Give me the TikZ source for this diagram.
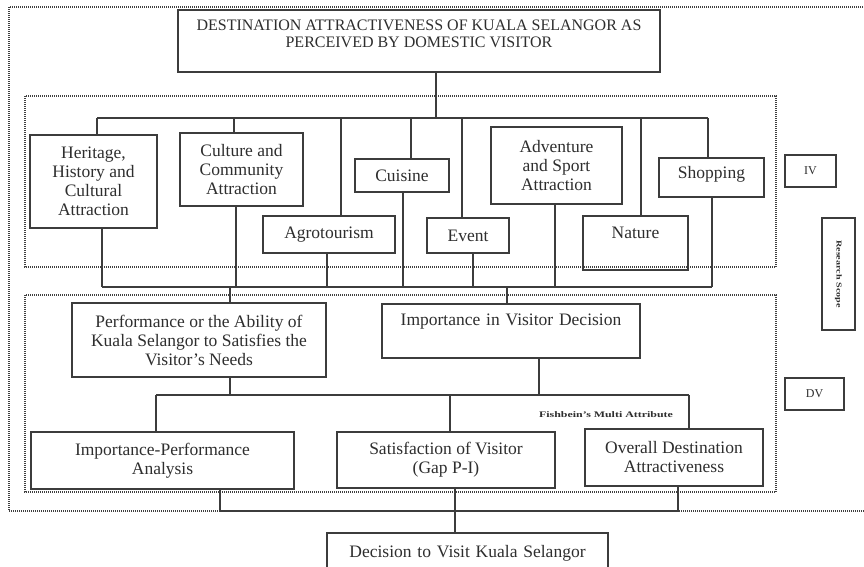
\documentclass[tikz,border=0pt]{standalone}
\usepackage{fontspec}
\setmainfont{Liberation Serif}
\usepackage{graphicx}
\definecolor{linec}{HTML}{3C3C3C}
\definecolor{textc}{HTML}{2E2E2E}
\definecolor{dotc}{HTML}{404040}
\tikzset{
  box/.style={draw=linec, line width=1.1pt, inner sep=0pt, align=center, text=textc,
              font=\fontsize{17.5}{19}\selectfont},
  conn/.style={draw=linec, line width=1.1pt},
  dotbox/.style={draw=dotc, line width=1.6pt, dash pattern=on 1pt off 1pt},
}
\begin{document}
\begin{tikzpicture}[x=1pt, y=-1pt]
\useasboundingbox (0,0) rectangle (864,566);
\clip (0,0) rectangle (864,566);
\fill[white] (0,0) rectangle (864,566);

% dotted frames
\draw[dotbox] (9,7) rectangle (880,511);
\draw[dotbox] (25,96) rectangle (776,267);
\draw[dotbox] (25,295) rectangle (776,492);

% title
\node[box, minimum width=482pt, minimum height=62pt, font=\fontsize{16}{17}\selectfont] (title) at (419,41)
  {DESTINATION ATTRACTIVENESS OF KUALA SELANGOR AS\\PERCEIVED BY DOMESTIC VISITOR\\[-3pt]};

% IV level boxes
\node[box, minimum width=127pt, minimum height=93pt] (heritage) at (93.5,181.5) {Heritage,\\History and\\Cultural\\Attraction};
\node[box, minimum width=123pt, minimum height=73pt] (culture) at (241.5,169.5) {Culture and\\Community\\Attraction};
\node[box, minimum width=132pt, minimum height=37pt] (agro) at (329,234.5) {Agrotourism};
\node[box, minimum width=94pt, minimum height=33pt] (cuisine) at (402,175.5) {Cuisine};
\node[box, minimum width=82pt, minimum height=35pt] (event) at (468,235.5) {Event};
\node[box, minimum width=131pt, minimum height=77pt] (adventure) at (556.5,165.5) {Adventure\\and Sport\\Attraction};
\node[box, text width=105pt, text height=22pt, text depth=32pt] (nature) at (635.5,243) {Nature};
\node[box, text width=105pt, text height=20pt, text depth=19pt] (shopping) at (711.5,177.5) {Shopping};

% side labels
\node[box, minimum width=51pt, minimum height=32pt, font=\fontsize{12}{14}\selectfont] (iv) at (810.5,171) {IV};
\node[box, minimum width=33pt, minimum height=112pt] (scope) at (838.5,274)
  {\rotatebox{-90}{\scalebox{1.35}[1]{\fontsize{7.5}{9}\selectfont\bfseries Research Scope}}};
\node[box, minimum width=59pt, minimum height=32pt, font=\fontsize{12}{14}\selectfont] (dv) at (814.5,394) {DV};

% DV level boxes
\node[box, minimum width=254pt, minimum height=74pt] (perf) at (199,340)
  {Performance or the Ability of\\Kuala Selangor to Satisfies the\\Visitor's Needs};
\node[box, text width=258pt, text height=21pt, text depth=33pt] (importance) at (511,331)
  {Importance in Visitor Decision};
\node[box, minimum width=263pt, minimum height=57pt] (ipa) at (162.5,460.5)
  {Importance-Performance\\Analysis};
\node[box, minimum width=218pt, minimum height=56pt] (satisfaction) at (446,460)
  {Satisfaction of Visitor\\(Gap P-I)};
\node[box, minimum width=178pt, minimum height=57pt] (overall) at (674,457.5)
  {Overall Destination\\Attractiveness};
\node[text=textc, inner sep=0pt] (fish) at (606,415)
  {\scalebox{1.4}[1]{\fontsize{8.5}{10}\selectfont\bfseries Fishbein's Multi Attribute}};

% decision
\node[box, text width=281pt, text height=24pt, text depth=18pt] (decision) at (467.5,554)
  {Decision to Visit Kuala Selangor};

% top bus
\coordinate (tb) at (436,118);
\coordinate (t1) at (97,118);
\coordinate (t2) at (234,118);
\coordinate (t3) at (341,118);
\coordinate (t4) at (411,118);
\coordinate (t5) at (462,118);
\coordinate (t6) at (641,118);
\coordinate (t7) at (708,118);
\draw[conn] (title.south -| tb) -- (tb);
\draw[conn] (t1) -- (t7);
\draw[conn] (t1) -- (heritage.north -| t1);
\draw[conn] (t2) -- (culture.north -| t2);
\draw[conn] (t3) -- (agro.north -| t3);
\draw[conn] (t4) -- (cuisine.north -| t4);
\draw[conn] (t5) -- (event.north -| t5);
\draw[conn] (t6) -- (nature.north -| t6);
\draw[conn] (t7) -- (shopping.north -| t7);

% bottom bus of IV
\coordinate (b1) at (102,287);
\coordinate (b2) at (236,287);
\coordinate (b3) at (327,287);
\coordinate (b4) at (403,287);
\coordinate (b5) at (473,287);
\coordinate (b6) at (555,287);
\coordinate (b7) at (712,287);
\draw[conn] (b1) -- (b7);
\draw[conn] (heritage.south -| b1) -- (b1);
\draw[conn] (culture.south -| b2) -- (b2);
\draw[conn] (agro.south -| b3) -- (b3);
\draw[conn] (cuisine.south -| b4) -- (b4);
\draw[conn] (event.south -| b5) -- (b5);
\draw[conn] (adventure.south -| b6) -- (b6);
\draw[conn] (shopping.south -| b7) -- (b7);

\coordinate (p1) at (230,287);
\coordinate (i1) at (507,287);
\draw[conn] (p1) -- (perf.north -| p1);
\draw[conn] (i1) -- (importance.north -| i1);

% lower bus
\coordinate (l1) at (156,395);
\coordinate (l2) at (230,395);
\coordinate (l3) at (450,395);
\coordinate (l4) at (539,395);
\coordinate (l5) at (689,395);
\draw[conn] (l1) -- (l5);
\draw[conn] (perf.south -| l2) -- (l2);
\draw[conn] (importance.south -| l4) -- (l4);
\draw[conn] (l1) -- (ipa.north -| l1);
\draw[conn] (l3) -- (satisfaction.north -| l3);
\draw[conn] (l5) -- (overall.north -| l5);

% to decision
\coordinate (m1) at (220,511);
\coordinate (m2) at (678,511);
\coordinate (m3) at (455,511);
\draw[conn] (ipa.south -| m1) -- (m1) -- (m2) -- (overall.south -| m2);
\draw[conn] (satisfaction.south -| m3) -- (decision.north -| m3);
\end{tikzpicture}
\end{document}
